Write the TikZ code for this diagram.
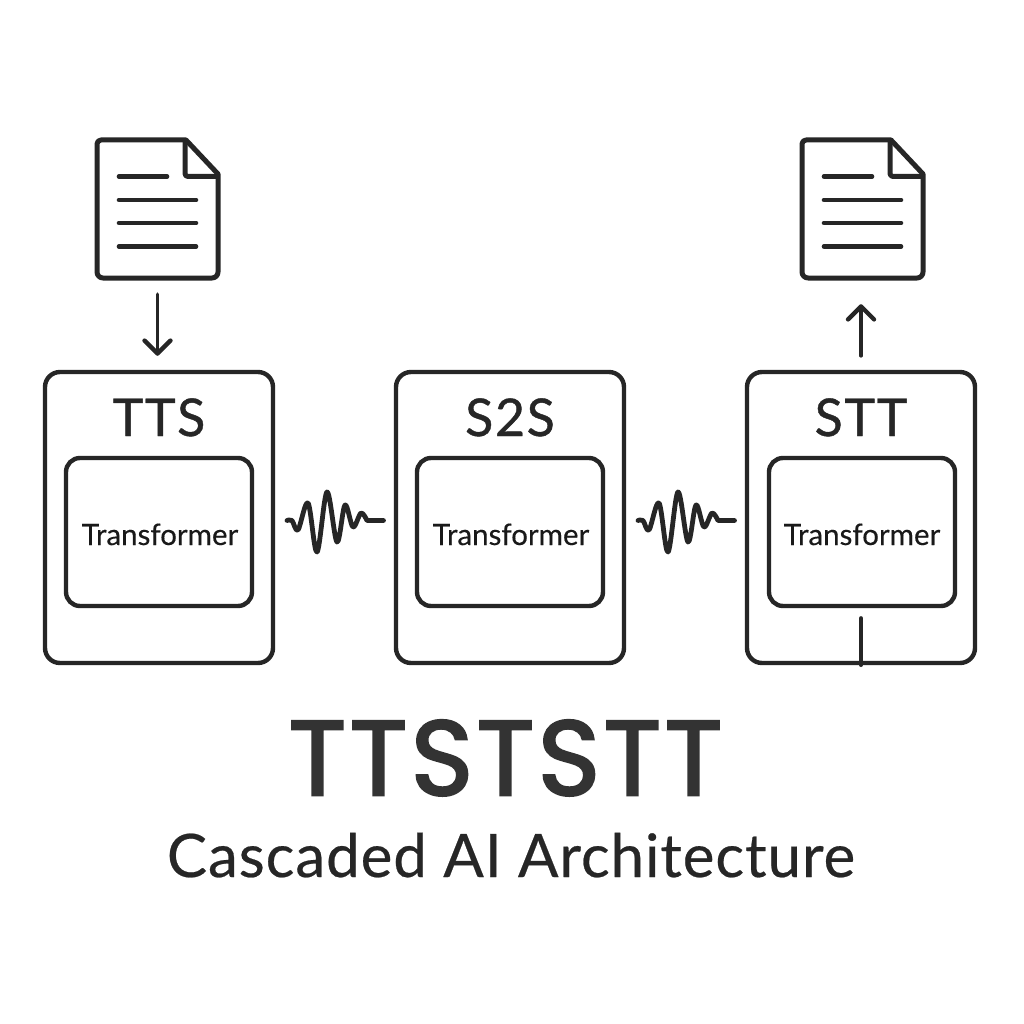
\documentclass[tikz,border=0pt]{standalone}
\usepackage{fontspec}
\setmainfont{Lato}
\newfontfamily\titlefont[FakeBold=2.4,LetterSpace=3.5]{Poppins}
\newfontfamily\labelfont[FakeBold=0.8,LetterSpace=3]{Lato}
\newfontfamily\subfont[FakeBold=0.3]{Lato}
\newfontfamily\captionfont[FakeBold=0.4,LetterSpace=1.6]{Lato}
\usetikzlibrary{arrows.meta}
\definecolor{ink}{HTML}{262626}
\definecolor{titleink}{HTML}{333333}
\tikzset{
  x=1pt,y=-1pt,
  outerbox/.style={draw=ink,line width=4.4pt,rounded corners=15pt,minimum width=228pt,minimum height=291pt,inner sep=0pt},
  innerbox/.style={draw=ink,line width=4.4pt,rounded corners=14pt,minimum width=186pt,minimum height=148pt,inner sep=0pt},
  modlabel/.style={text=ink,font=\labelfont\fontsize{52}{52}\selectfont,inner sep=0pt,anchor=base},
  translabel/.style={text=black!90,font=\subfont\fontsize{29.5}{30}\selectfont,inner sep=0pt,anchor=base},
  docbody/.style={draw=ink,line width=5pt,line join=round,fill=white},
  docline/.style={draw=ink,line width=4.6pt,line cap=round},
  flow/.style={draw=ink,line width=3.6pt,line cap=round,-{Straight Barb[length=13pt,width=26pt,line width=4.4pt,round]}},
  wave/.style={draw=ink,line width=4.8pt,line cap=round,line join=round},
  docanchor/.style={minimum width=121pt,minimum height=138pt,inner sep=0pt}
}
\newcommand{\docicon}[1]{%
  \begin{scope}[shift={(#1,0)}]
    \path[docbody] (101,140) -- (186,140) -- (218,174) -- (218,272) arc[start angle=0,end angle=90,radius=6] -- (103,278) arc[start angle=90,end angle=180,radius=6] -- (97,144) arc[start angle=180,end angle=270,radius=4] -- cycle;
    \path[docbody,fill=none,rounded corners=3pt] (185,140) -- (185,176.5) -- (218,176.5);
    \path[docline] (119,176.5) -- (167,176.5);
    \path[docline] (119,200) -- (196,200);
    \path[docline] (119,223) -- (196,223);
    \path[docline] (119,246.5) -- (196,246.5);
  \end{scope}}
\newcommand{\wavepath}[1]{%
  \draw[wave,shift={(#1,0)}] plot[smooth,tension=0.55] coordinates {(287,520.5) (292,520.5) (298,530) (308,503) (317,552) (327,492) (337,542) (345,505) (353,527) (361,513) (367,520.5)} -- (383.5,520.5);}
\begin{document}
\begin{tikzpicture}
\useasboundingbox (0,0) rectangle (1024,1024);
\fill[white] (0,0) rectangle (1024,1024);

\node[docanchor] (doc1) at (157.5,209) {};
\node[docanchor] (doc2) at (862.5,209) {};
\docicon{0}
\docicon{705}

\node[outerbox] (tts) at (159,517.5) {};
\node[outerbox] (s2s) at (510,517.5) {};
\node[outerbox] (stt) at (861,517.5) {};
\node[innerbox] (ttsin) at (159,532) {};
\node[innerbox] (s2sin) at (510,532) {};
\node[innerbox] (sttin) at (862,532) {};

\node[modlabel] (ttsl) at (159,436) {TTS};
\node[modlabel] (s2sl) at (510,436) {S2S};
\node[modlabel] (sttl) at (861,436) {STT};
\node[translabel] (ttst) at (160,545) {Transformer};
\node[translabel] (s2st) at (511,545) {Transformer};
\node[translabel] (sttt) at (862,545) {Transformer};

\draw[flow,shorten <=16pt,shorten >=14pt] (doc1.south) -- (doc1.south |- tts.north);
\draw[flow,shorten <=14pt,shorten >=26pt] (stt.north) -- (stt.north |- doc2.south);
\coordinate (stem) at (861,618);
\draw[draw=ink,line width=3.6pt,line cap=round] (stem) -- (stem |- stt.south);

\wavepath{0}
\wavepath{351}

\node[text=titleink,font=\titlefont\fontsize{106}{106}\selectfont,inner sep=0pt,anchor=base] (title) at (505.5,795) {TTSTSTT};
\node[text=ink,font=\captionfont\fontsize{60}{60}\selectfont,inner sep=0pt,anchor=base] (subtitle) at (511,877) {Cascaded AI Architecture};
\end{tikzpicture}
\end{document}
